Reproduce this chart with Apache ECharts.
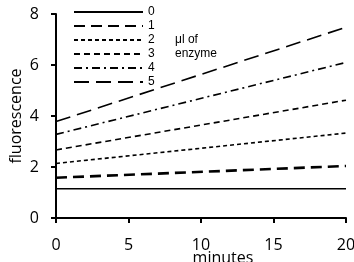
<!DOCTYPE html>
<html>
<head>
<meta charset="utf-8">
<script src="https://cdn.jsdelivr.net/npm/echarts@6/dist/echarts.min.js"></script>
<style>
  html, body { margin: 0; padding: 0; background: #fff; }
  #chart { width: 354px; height: 262px; }
</style>
</head>
<body>
<div id="chart"></div>
<script>
// μl of enzyme -> fluorescence at 0 and 20 minutes
var names = ["0", "1", "2", "3", "4", "5"];
var minutes = [0, 20];
var startVals = [1.15, 1.58, 2.14, 2.67, 3.28, 3.78];
var endVals = [1.15, 2.04, 3.33, 4.62, 6.1, 7.48];
var yTicks = [0, 2, 4, 6, 8];

var styles = [
  { width: 1.6, type: "solid" },
  { width: 2.6, type: [11, 6] },
  { width: 1.6, type: [4, 3] },
  { width: 1.6, type: [6, 4] },
  { width: 1.6, type: [8, 4, 2, 4] },
  { width: 1.6, type: [15, 7] },
];

var myChart = echarts.init(document.getElementById("chart"));

var series = names.map(function (n, i) {
  return {
    name: n,
    type: "line",
    symbol: "none",
    data: [
      [minutes[0], startVals[i]],
      [minutes[1], endVals[i]],
    ],
    lineStyle: {
      color: "#000",
      width: styles[i].width,
      type: styles[i].type,
    },
    itemStyle: { color: "#000" },
    silent: true,
  };
});

var option = {
  animation: false,
  grid: { left: 56, right: 8, top: 14, bottom: 44, containLabel: false, outerBoundsMode: "none" },
  legend: {
    orient: "vertical",
    left: 73,
    top: 6,
    padding: 0,
    itemWidth: 69,
    itemHeight: 10,
    itemGap: 2,
    data: names,
    itemStyle: { opacity: 0, borderWidth: 0 },
    textStyle: { fontFamily: "Liberation Sans", fontSize: 12, color: "#000" },
  },
  graphic: [
    {
      type: "text",
      left: 175,
      top: 33,
      style: {
        text: "μl of\nenzyme",
        fontFamily: "Liberation Sans",
        fontSize: 12,
        lineHeight: 14,
        fill: "#000",
      },
    },
  ],
  xAxis: {
    type: "value",
    min: 0,
    max: 20,
    interval: 5,
    name: "minutes",
    nameLocation: "middle",
    nameGap: 32,
    nameMoveOverlap: false,
    nameTextStyle: { fontFamily: "Open Sans", fontSize: 16, color: "#000", padding: [0, 0, 0, 44] },
    axisLine: { show: true, lineStyle: { color: "#000", width: 2 } },
    axisTick: { show: true, length: 5, lineStyle: { color: "#000", width: 2 } },
    axisLabel: { fontFamily: "Open Sans", fontSize: 16, color: "#000", margin: 19 },
    splitLine: { show: false },
  },
  yAxis: {
    type: "value",
    min: yTicks[0],
    max: yTicks[yTicks.length - 1],
    interval: 2,
    name: "fluorescence",
    nameLocation: "middle",
    nameGap: 32,
    nameMoveOverlap: false,
    nameTextStyle: { fontFamily: "Open Sans", fontSize: 16, color: "#000" },
    axisLine: { show: true, lineStyle: { color: "#000", width: 2 } },
    axisTick: { show: true, length: 5, lineStyle: { color: "#000", width: 2 } },
    axisLabel: { fontFamily: "Open Sans", fontSize: 16, color: "#000", margin: 17 },
    splitLine: { show: false },
  },
  series: series,
};
myChart.setOption(option);
</script>
</body>
</html>
